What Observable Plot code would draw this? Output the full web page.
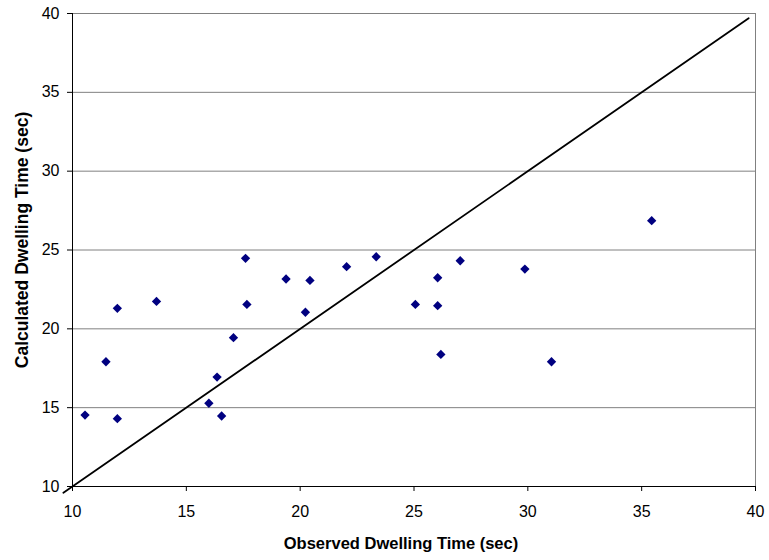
<!DOCTYPE html>
<html>
<head>
<meta charset="utf-8">
<script src="https://cdn.jsdelivr.net/npm/d3@7"></script>
<script src="https://cdn.jsdelivr.net/npm/@observablehq/plot@0.6"></script>
<style>
  html, body { margin: 0; padding: 0; background: #fff; }
  #chart svg { font-family: "Liberation Sans", Arial, sans-serif; display: block; }
</style>
</head>
<body>
<div id="chart"></div>
<script>
// Observed vs calculated dwelling time (sec)
const observed = [10.55, 11.47, 11.97, 11.97, 13.69, 17.60, 17.66, 17.07, 16.35, 15.99, 16.55,
  19.38, 20.43, 20.23, 22.04, 23.34, 25.06, 26.04, 26.04, 26.18, 27.03, 29.87, 31.04, 35.44];
const calculated = [14.53, 17.91, 21.30, 14.30, 21.74, 24.47, 21.55, 19.44, 16.94, 15.28, 14.47,
  23.16, 23.07, 21.05, 23.94, 24.57, 21.55, 23.24, 21.47, 18.38, 24.32, 23.79, 17.91, 26.86];
// 1:1 reference line endpoints
const lineX = [9.6, 39.7];
const lineY = [9.6, 39.7];
const ticks = [10, 15, 20, 25, 30, 35, 40];
const xTitle = "Observed Dwelling Time (sec)";
const yTitle = "Calculated Dwelling Time (sec)";

const points = observed.map((x, i) => ({x, y: calculated[i]}));
const line = lineX.map((x, i) => ({x, y: lineY[i]}));

const chart = Plot.plot({
  width: 769,
  height: 560,
  marginLeft: 72,
  marginRight: 14,
  marginTop: 13,
  marginBottom: 74,
  style: {fontFamily: '"Liberation Sans", Arial, sans-serif', fontSize: "16px", color: "#000", background: "#fff"},
  x: {domain: [10, 40]},
  y: {domain: [10, 40]},
  marks: [
    Plot.ruleY(ticks.filter(t => t > 10), {stroke: "#808080", strokeWidth: 1}),
    Plot.ruleX([40], {stroke: "#808080", strokeWidth: 1}),
    Plot.ruleX([10], {stroke: "#000", strokeWidth: 1}),
    Plot.ruleY([10], {stroke: "#000", strokeWidth: 1}),
    Plot.axisX({ticks, tickSize: 5, tickPadding: 14, label: null, fontSize: 16, stroke: "#000"}),
    Plot.axisY({ticks, tickSize: 5, tickPadding: 8, label: null, fontSize: 16, stroke: "#000"}),
    Plot.line(line, {x: "x", y: "y", stroke: "#000", strokeWidth: 1.8}),
    Plot.dot(points, {x: "x", y: "y", symbol: "diamond2", r: 4.2, fill: "#000080", stroke: "none"}),
    Plot.text([xTitle], {frameAnchor: "bottom", dy: 62, dx: -13, text: d => d, fontWeight: "bold", fontSize: 16.5, fill: "#000"}),
    Plot.text([yTitle], {frameAnchor: "left", dx: -50, dy: -10, rotate: -90, textAnchor: "middle", text: d => d, fontWeight: "bold", fontSize: 17.5, fill: "#000"})
  ]
});
document.getElementById("chart").appendChild(chart);
</script>
</body>
</html>
